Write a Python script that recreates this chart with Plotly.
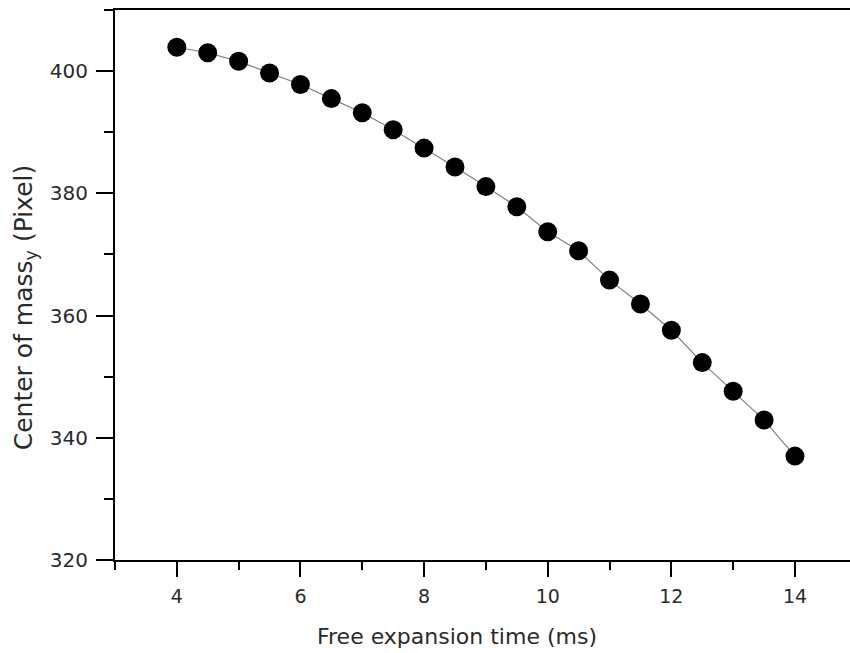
import plotly.graph_objects as go

# Data
time_ms = [4, 4.5, 5, 5.5, 6, 6.5, 7, 7.5, 8, 8.5, 9, 9.5, 10, 10.5, 11, 11.5, 12, 12.5, 13, 13.5, 14]
center_y = [403.9, 403.0, 401.6, 399.7, 397.8, 395.5, 393.2, 390.4, 387.4, 384.3, 381.1,
            377.8, 373.7, 370.6, 365.8, 361.9, 357.6, 352.3, 347.6, 342.9, 337.0]

x_ticks = [4, 6, 8, 10, 12, 14]
y_ticks = [320, 340, 360, 380, 400]

x_title = "Free expansion time (ms)"
y_title = "Center of mass<sub>y</sub> (Pixel)"

FONT = "DejaVu Sans"
TXT = "#2a2a2a"

fig = go.Figure()
fig.add_trace(go.Scatter(
    x=time_ms, y=center_y, mode="lines+markers",
    line=dict(color="#808080", width=1.2),
    marker=dict(color="black", size=19, line=dict(width=0)),
    showlegend=False,
))

fig.update_layout(
    width=850, height=653,
    margin=dict(l=115, r=0, t=10, b=93),
    paper_bgcolor="white", plot_bgcolor="white",
    font=dict(family=FONT, color=TXT),
    xaxis=dict(
        range=[3, 14.89], tickvals=x_ticks,
        ticks="outside", ticklen=15, tickwidth=2, tickcolor="black",
        minor=dict(dtick=1, tick0=0, ticks="outside", ticklen=8, tickwidth=2, tickcolor="black"),
        showline=True, linewidth=2, linecolor="black", mirror=True,
        showgrid=False, zeroline=False,
        tickfont=dict(family=FONT, size=19, color=TXT),
        ticklabelstandoff=3,
    ),
    yaxis=dict(
        range=[320, 410], tickvals=y_ticks,
        ticks="outside", ticklen=17, tickwidth=2, tickcolor="black",
        minor=dict(dtick=10, tick0=0, ticks="outside", ticklen=9, tickwidth=2, tickcolor="black"),
        showline=True, linewidth=2, linecolor="black", mirror=False,
        showgrid=False, zeroline=False,
        tickfont=dict(family=FONT, size=20, color=TXT),
        ticklabelstandoff=4,
    ),
    annotations=[
        dict(text=x_title, xref="paper", yref="paper", x=(457 - 115) / 735, y=(559.5 - 636) / 549.5,
             xanchor="center", yanchor="middle", showarrow=False,
             font=dict(family=FONT, size=22, color=TXT)),
        dict(text=y_title, xref="paper", yref="paper", x=(25 - 115) / 735, y=(559.5 - 307) / 549.5,
             xanchor="center", yanchor="middle", showarrow=False, textangle=-90,
             font=dict(family=FONT, size=25, color=TXT)),
    ],
)

fig.write_html("out.html")
